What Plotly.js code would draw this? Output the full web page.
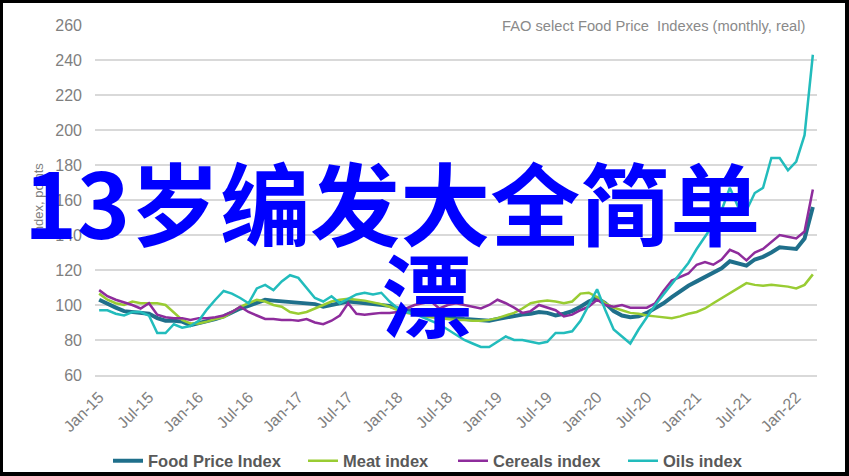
<!DOCTYPE html>
<html>
<head>
<meta charset="utf-8">
<script src="https://cdn.plot.ly/plotly-3.0.1.min.js"></script>
<style>
  html, body { margin: 0; padding: 0; background: #fff; }
  #wrap { position: relative; width: 849px; height: 476px; }
  #chart { width: 849px; height: 476px; }
  #frame { position: absolute; left: 0; top: 0; width: 849px; height: 476px; box-sizing: border-box;
           border-left: 3px solid #000; border-top: 3px solid #000; border-right: 4px solid #000; border-bottom: 4px solid #000;
           pointer-events: none; }
</style>
</head>
<body>
<div id="wrap"><div id="chart"></div><div id="frame"></div></div>
<script>
const months = [
  "Jan-15","Feb-15","Mar-15","Apr-15","May-15","Jun-15","Jul-15","Aug-15","Sep-15","Oct-15","Nov-15","Dec-15",
  "Jan-16","Feb-16","Mar-16","Apr-16","May-16","Jun-16","Jul-16","Aug-16","Sep-16","Oct-16","Nov-16","Dec-16",
  "Jan-17","Feb-17","Mar-17","Apr-17","May-17","Jun-17","Jul-17","Aug-17","Sep-17","Oct-17","Nov-17","Dec-17",
  "Jan-18","Feb-18","Mar-18","Apr-18","May-18","Jun-18","Jul-18","Aug-18","Sep-18","Oct-18","Nov-18","Dec-18",
  "Jan-19","Feb-19","Mar-19","Apr-19","May-19","Jun-19","Jul-19","Aug-19","Sep-19","Oct-19","Nov-19","Dec-19",
  "Jan-20","Feb-20","Mar-20","Apr-20","May-20","Jun-20","Jul-20","Aug-20","Sep-20","Oct-20","Nov-20","Dec-20",
  "Jan-21","Feb-21","Mar-21","Apr-21","May-21","Jun-21","Jul-21","Aug-21","Sep-21","Oct-21","Nov-21","Dec-21",
  "Jan-22","Feb-22","Mar-22"
];
const tickLabels = ["Jan-15","Jul-15","Jan-16","Jul-16","Jan-17","Jul-17","Jan-18","Jul-18",
                    "Jan-19","Jul-19","Jan-20","Jul-20","Jan-21","Jul-21","Jan-22"];
const yTicks = [60, 80, 100, 120, 140, 160, 180, 200, 220, 240, 260];

const foodPriceIndex = [
  103,100.5,98.5,96.5,96,96,95,92.5,91,91,90.5,88.5,
  89.5,90.5,92,93.5,96,98,99.5,101.5,103,102.5,102,101.5,
  101,100.5,100.5,99,100,101.5,102,101.5,101,101,100,99.5,
  98,97,96.5,96,95,94,93,92.5,92,91.5,91,91,
  92,93,93.5,94.5,95,96,95.5,94,95,96.5,99,102,
  104,101,96.5,94,93,93.5,95.5,98,101,104.5,108,111,
  113.5,116,118,121,125,124,122.5,126,127.5,130,133,132.5,
  132,138,156
];
const meatIndex = [
  106.5,103,101,100,102,101,101,101,100,95.5,91.5,89.5,
  89.5,90.5,92,93,96,99,101,103,102,100,99,96,
  95,96,98,100,102,103,103.5,103,102.5,101.5,100.5,99,
  97,95.5,94.5,93.5,93,92.5,92,91.5,91.5,91,91,91.5,
  92.5,94,95.5,98,101,102,102.5,102,101,102,106.5,107,
  104.5,101,98.5,97,95.5,95,94,93.5,93,92.5,93.5,95,
  96,98,101,104,107,109.5,112.5,111.5,111,111.5,111,110.5,
  109.5,111.5,117.5
];
const cerealsIndex = [
  108.5,105,103,101.5,100,98,101,94.5,93,92.5,92.5,91.5,
  92.5,92.5,93,94,96,99,96,94,92,92,91.5,91.5,
  91,92,90,89,91,94,101,95,94.5,95,95.5,95.5,
  96,98,100,101,102,98,100,101,100,99,98,100,
  103,101,98.5,95.5,96.5,100,98.5,97,93.5,94.5,97,99,
  103,100,99,100,98.5,98.5,98.5,101,108,114,116,118,
  123,124.5,123,126,131.5,129.5,125.5,130,132,136,140,139,
  138,142,166
];
const oilsIndex = [
  97,97,95,94,96,96,94,84,84,89,87,88,
  91,97.5,103,108,106.5,104,101,109.5,111.5,108.5,113.5,117,
  115.5,110,104,102,105,101,103.5,106,107,106,107,102,
  98,96,95,93,91,89,86,83,80,78,76,76,
  79,82,80,80,79,78,79,84,84,85,91,100,
  109,97,86,82,78,86,93,100,106,112,118,124,
  132,139,146,154,167,156,154,164,167,184,184,177,
  182,197,243
];

const seriesNames = ["Food Price Index", "Meat index", "Cereals index", "Oils index"];
const seriesValues = [foodPriceIndex, meatIndex, cerealsIndex, oilsIndex];
const seriesColors = ["#1f6f8b", "#99cc33", "#8e2c9c", "#22bcbc"];
const seriesWidths = [4, 2.5, 2.5, 2.5];
const legendIds = ["legend", "legend2", "legend3", "legend4"];
const legendLeft = [108, 303, 453, 623];

const traces = seriesNames.map((n, k) => ({
  type: "scatter", mode: "lines", name: n, x: months, y: seriesValues[k],
  legend: legendIds[k],
  line: { color: seriesColors[k], width: seriesWidths[k] }
}));

const L = 95, R = 817, T = 25, B = 375;
const px = x => (x - L) / (R - L);
const py = y => (B - y) / (B - T);

const layout = {
  width: 849, height: 476,
  margin: { l: L, r: 849 - R, t: T, b: 476 - B, pad: 0, autoexpand: false },
  paper_bgcolor: "#ffffff", plot_bgcolor: "#ffffff",
  font: { family: "Liberation Sans, Arial, sans-serif", color: "#7f7f7f" },
  showlegend: true,
  xaxis: {
    type: "category", range: [-0.5, months.length - 0.5],
    tickmode: "array", tickvals: tickLabels, ticktext: tickLabels,
    tickangle: -45, tickfont: { size: 16, color: "#7f7f7f" }, ticklabelstandoff: 5,
    showgrid: false, zeroline: false, showline: true, linecolor: "#d9d9d9", linewidth: 1.5,
    ticks: "", fixedrange: true, automargin: false
  },
  yaxis: {
    range: [60, 260], tickmode: "array", tickvals: yTicks,
    tickfont: { size: 16, color: "#7f7f7f" }, ticks: "", ticklabelstandoff: 12,
    showgrid: true, gridcolor: "#d9d9d9", gridwidth: 1.5, zeroline: false, showline: false, automargin: false,
    title: { text: "Index, points", font: { size: 13, color: "#7f7f7f" }, standoff: 8 }
  },
  annotations: [
    { xref: "paper", yref: "paper", x: px(807), y: py(26), xanchor: "right", yanchor: "middle",
      text: "FAO select Food Price  Indexes (monthly, real)", showarrow: false,
      font: { size: 14.7, color: "#8a8a8a" } },
    { xref: "paper", yref: "paper", x: px(392), y: py(200), xanchor: "center", yanchor: "middle",
      text: "13岁编发大全简单", showarrow: false,
      font: { family: "Noto Sans CJK SC", size: 90, color: "#0000ff", weight: "bold" } },
    { xref: "paper", yref: "paper", x: px(427), y: py(291), xanchor: "center", yanchor: "middle",
      text: "漂", showarrow: false,
      font: { family: "Noto Sans CJK SC", size: 90, color: "#0000ff", weight: "bold" } }
  ]
};

legendIds.forEach((id, k) => {
  layout[id] = {
    orientation: "h", xref: "container", x: legendLeft[k] / 849, xanchor: "left",
    yref: "container", y: (476 - 461) / 476, yanchor: "middle",
    bgcolor: "rgba(0,0,0,0)",
    font: { family: "Liberation Sans, Arial, sans-serif", size: 16.5, color: "#595959", weight: "bold" }
  };
});

Plotly.newPlot("chart", traces, layout, { staticPlot: true, displayModeBar: false });
</script>
</body>
</html>
